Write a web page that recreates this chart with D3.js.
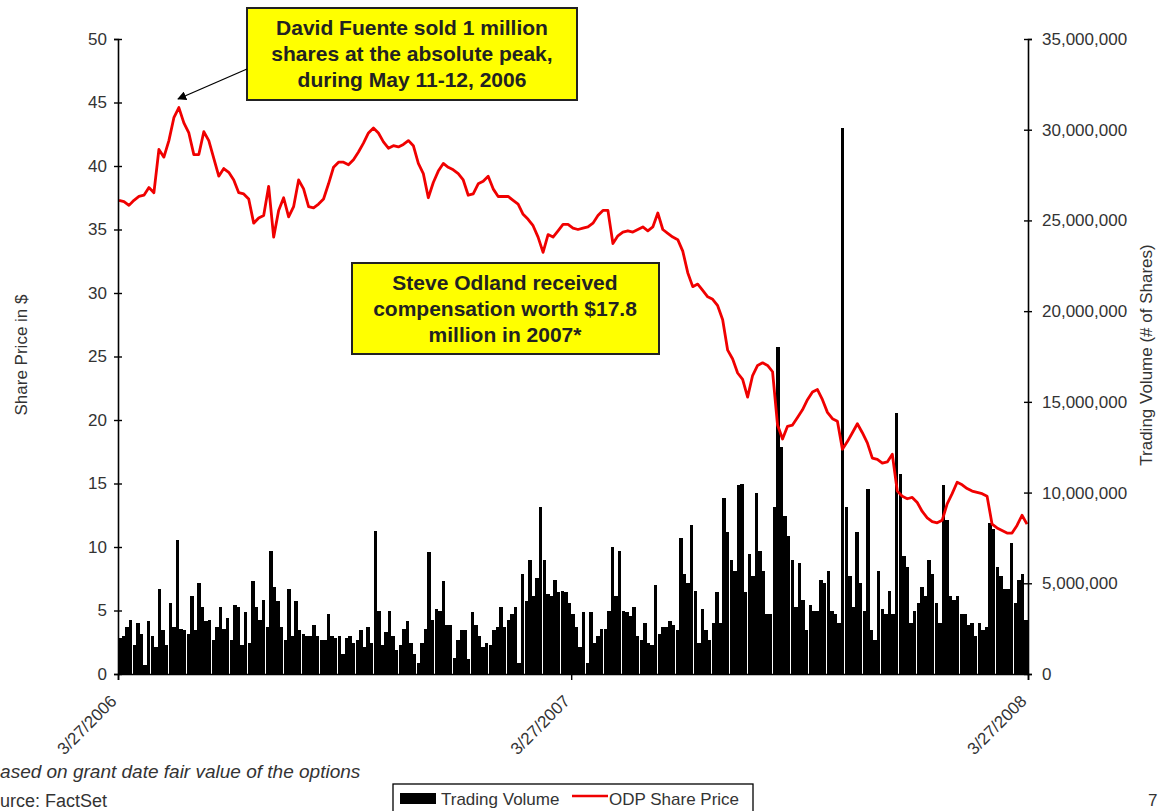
<!DOCTYPE html>
<html><head><meta charset="utf-8">
<script src="https://cdn.jsdelivr.net/npm/d3@7"></script>
<style>
body{margin:0;background:#fff}
svg{display:block}
text{font-family:"Liberation Sans",Arial,sans-serif}
</style>
</head><body>
<svg id="c" width="1158" height="811"></svg>
<script>
// ---------- data ----------
const priceTicks = [0,5,10,15,20,25,30,35,40,45,50];
const volumeTicks = [0,5000000,10000000,15000000,20000000,25000000,30000000,35000000];
const dateLabels = ["3/27/2006","3/27/2007","3/27/2008"];
const dateTickDays = [0,251,504];   // trading-day index of each date label
const totalDays = 504;

// ODP share price ($), sampled across the period
const sharePrice = [
37.3,37.2,36.9,37.3,37.6,37.7,38.3,37.9,41.3,40.7,
42.0,43.8,44.6,43.4,42.6,40.9,40.9,42.7,42.0,40.6,
39.2,39.8,39.5,38.9,37.9,37.8,37.4,35.5,35.9,36.1,
38.4,34.4,36.5,37.5,36.0,36.8,38.9,38.2,36.8,36.7,
37.0,37.4,38.6,39.9,40.3,40.3,40.1,40.5,41.1,41.8,
42.6,43.0,42.6,41.9,41.4,41.6,41.5,41.7,42.0,41.6,
40.2,39.4,37.5,38.7,39.6,40.2,39.9,39.7,39.4,38.9,
37.7,37.8,38.6,38.8,39.2,38.2,37.6,37.6,37.6,37.3,
37.0,36.2,35.8,35.3,34.4,33.2,34.6,34.4,34.9,35.4,
35.4,35.1,35.0,35.1,35.2,35.5,36.1,36.5,36.5,33.9,
34.5,34.8,34.9,34.8,35.0,35.2,34.9,35.2,36.3,35.0,
34.7,34.4,34.2,33.3,31.6,30.5,30.7,30.2,29.7,29.5,
29.0,27.9,25.5,24.8,23.7,23.2,21.8,23.5,24.3,24.5,
24.3,23.8,19.6,18.5,19.5,19.6,20.2,20.8,21.6,22.2,
22.4,21.6,20.6,20.1,19.9,17.7,18.3,19.0,19.7,19.0,
18.2,17.0,16.9,16.6,16.7,17.3,14.4,14.0,13.8,13.9,
13.5,12.8,12.3,12.0,11.9,12.1,13.4,14.2,15.1,14.9,
14.6,14.4,14.3,14.2,14.0,11.8,11.5,11.3,11.1,11.1,
11.7,12.5,11.8
];

// Trading volume (millions of shares), one bar per two trading days
const volumeMillions = [
2.0,2.1,2.6,3.0,1.6,2.8,2.2,0.5,2.9,2.1,
1.5,4.7,2.4,1.6,3.9,2.6,7.4,2.5,2.4,2.2,
4.3,2.4,5.0,3.7,2.9,3.0,1.9,2.6,3.7,2.5,
3.1,1.9,3.8,3.7,1.6,3.4,1.7,5.1,3.7,3.0,
4.1,2.6,6.8,4.8,4.0,2.6,1.9,4.7,2.1,4.0,
2.4,2.2,2.1,2.1,2.7,2.1,1.9,1.9,3.3,2.1,
2.0,2.1,1.1,2.0,2.1,1.7,1.9,2.4,1.5,2.6,
1.7,7.9,3.5,1.6,2.3,3.5,2.1,1.3,1.6,2.5,
2.9,1.7,1.1,0.6,1.7,2.5,6.7,3.0,3.6,3.5,
5.1,2.7,2.7,0.9,1.9,2.4,2.4,0.8,3.4,2.7,
2.1,1.5,1.7,1.6,2.4,2.6,3.7,2.6,3.0,3.3,
3.7,0.6,5.5,4.0,6.3,4.3,5.3,9.2,6.3,4.4,
4.3,5.2,4.5,4.6,4.5,3.9,3.3,2.6,1.5,3.4,
0.6,3.4,1.7,2.1,2.5,2.5,3.5,7.0,4.3,6.8,
3.5,3.4,3.2,3.7,2.1,1.9,2.8,1.7,1.6,4.9,
2.2,2.6,2.6,2.9,2.7,2.4,7.5,5.5,5.0,8.2,
4.6,1.7,3.6,2.4,1.9,2.8,4.5,2.8,9.7,7.8,
6.3,5.7,10.4,10.5,4.5,6.6,5.4,10.0,6.8,5.7,
3.3,3.3,9.2,18.0,12.5,8.7,7.6,6.3,3.7,6.1,
4.1,2.4,3.8,3.5,3.5,5.2,5.0,5.7,3.5,3.3,
2.8,30.1,9.2,5.4,3.7,7.8,5.0,3.5,10.2,2.4,
1.9,5.7,3.6,3.3,4.6,3.3,14.4,11.0,6.5,5.9,
2.8,3.5,3.9,4.8,4.3,6.3,5.5,3.9,2.8,10.4,
8.5,4.3,4.1,4.3,3.3,3.3,2.7,2.8,2.1,2.8,
2.4,2.6,8.3,8.0,5.9,5.4,4.7,4.7,7.2,3.9,
5.2,5.5,3.0
];

const note1 = ["David Fuente sold 1 million","shares at the absolute peak,","during May 11-12, 2006"];
const note2 = ["Steve Odland received","compensation worth $17.8","million in 2007*"];
const legendItems = [{label:"Trading Volume",type:"bar"},{label:"ODP Share Price",type:"line"}];

// ---------- layout ----------
const L = 118, R = 1028, T = 39, B = 674;
const svg = d3.select("#c");
const ink = "#222";

const xDay = d3.scaleLinear().domain([0,totalDays]).range([L,R]);
const xBar = d3.scaleBand().domain(d3.range(volumeMillions.length)).range([L,R]).paddingInner(0.05).paddingOuter(0.05);
const xPrice = d3.scaleLinear().domain([0,sharePrice.length-1]).range([L+1,R-1]);
const yPrice = d3.scaleLinear().domain([0,50]).range([B,T]);
const yVol = d3.scaleLinear().domain([0,35000000]).range([B,T]);

// volume bars
svg.append("g").attr("shape-rendering","crispEdges")
  .selectAll("rect").data(volumeMillions).join("rect")
  .attr("x",(d,i)=>xBar(i))
  .attr("width",xBar.bandwidth())
  .attr("y",d=>yVol(d*1e6))
  .attr("height",d=>B-yVol(d*1e6))
  .attr("fill","#000");

// price line
svg.append("path").datum(sharePrice)
  .attr("d",d3.line().x((d,i)=>xPrice(i)).y(d=>yPrice(d)))
  .attr("fill","none").attr("stroke","#f00000").attr("stroke-width",2.8)
  .attr("stroke-linejoin","round");

// left axis
const gL = svg.append("g").attr("transform",`translate(${L},0)`)
  .call(d3.axisLeft(yPrice).tickValues(priceTicks).tickSize(4).tickPadding(7));
gL.selectAll(".tick line").attr("x1",4);
// right axis
const gR = svg.append("g").attr("transform",`translate(${R},0)`)
  .call(d3.axisRight(yVol).tickValues(volumeTicks).tickSize(4).tickPadding(10).tickFormat(d3.format(",")));
gR.selectAll(".tick line").attr("x1",-4);
// bottom axis
const gB = svg.append("g").attr("transform",`translate(0,${B})`)
  .call(d3.axisBottom(xDay).tickValues(dateTickDays).tickSize(6).tickFormat((d,i)=>dateLabels[i]));
[gL,gR,gB].forEach(g=>{
  g.select(".domain").attr("stroke","#000").attr("stroke-width",1.6);
  g.selectAll(".tick line").attr("stroke","#000").attr("stroke-width",1.4);
  g.selectAll("text").attr("fill","#333").style("font-size","17px").style("font-family","'Liberation Sans',Arial,sans-serif");
});
gB.selectAll(".tick text")
  .attr("text-anchor","end").attr("y",0).attr("dy","0.35em")
  .attr("transform","translate(-5,24) rotate(-45)");

// axis titles
svg.append("text").attr("transform","translate(27,355) rotate(-90)")
  .attr("text-anchor","middle").attr("fill","#333").style("font-size","17px").text("Share Price in $");
svg.append("text").attr("transform","translate(1152,355) rotate(-90)")
  .attr("text-anchor","middle").attr("fill","#333").style("font-size","17px").text("Trading Volume (# of Shares)");

// annotation boxes
function noteBox(x,y,w,h,lines,cx,firstBase){
  svg.append("rect").attr("x",x).attr("y",y).attr("width",w).attr("height",h)
    .attr("fill","#ffff00").attr("stroke",ink).attr("stroke-width",2);
  svg.append("g").selectAll("text").data(lines).join("text")
    .attr("x",cx).attr("y",(d,i)=>firstBase+i*26)
    .attr("text-anchor","middle").attr("fill",ink)
    .style("font-size","21px").style("font-weight","bold").text(d=>d);
}
noteBox(247,8,330,92,note1,412,35);
noteBox(352,263,307,91,note2,505,290);

// arrow
svg.append("defs").append("marker").attr("id","ah").attr("viewBox","0 0 10 10")
  .attr("refX",9).attr("refY",5).attr("markerWidth",7).attr("markerHeight",7)
  .attr("orient","auto").append("path").attr("d","M0,0 L10,5 L0,10 z").attr("fill","#000");
svg.append("line").attr("x1",247).attr("y1",69).attr("x2",178).attr("y2",99)
  .attr("stroke","#000").attr("stroke-width",1.3).attr("marker-end","url(#ah)");

// footnotes (left edge cropped as in the original slide)
svg.append("text").attr("x",-20).attr("y",778).attr("fill","#333")
  .style("font-size","19px").style("font-style","italic").text("*Based on grant date fair value of the options");
svg.append("text").attr("x",-22).attr("y",807).attr("fill","#333")
  .style("font-size","18px").text("Source: FactSet");
svg.append("text").attr("x",1148).attr("y",806).attr("fill","#333")
  .style("font-size","17px").text("7");

// legend
const lg = svg.append("g");
lg.append("rect").attr("x",393).attr("y",784).attr("width",360).attr("height",40)
  .attr("fill","#fff").attr("stroke","#000").attr("stroke-width",1.3);
legendItems.forEach((it,i)=>{
  const x0 = i===0 ? 400 : 572;
  if(it.type==="bar"){
    lg.append("rect").attr("x",x0).attr("y",793).attr("width",36).attr("height",11).attr("fill","#000");
  } else {
    lg.append("line").attr("x1",x0).attr("x2",x0+36).attr("y1",796).attr("y2",796)
      .attr("stroke","#f00000").attr("stroke-width",2.6);
  }
  lg.append("text").attr("x",x0+(i===0?41:37)).attr("y",805).attr("fill","#333")
    .style("font-size","17px").text(it.label);
});
</script>
</body></html>
